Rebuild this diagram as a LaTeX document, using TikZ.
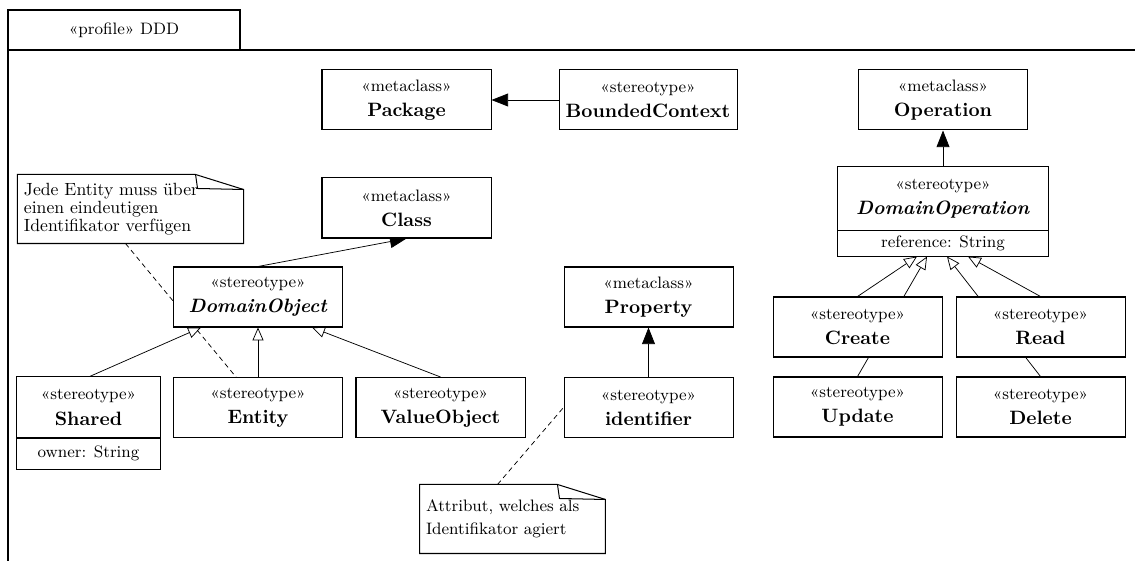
\documentclass[tikz,border=0pt]{standalone}
\usetikzlibrary{arrows.meta,calc,backgrounds}
\def\pxu{0.543pt}
\newcommand\sttext[1]{{\small«#1»}}
\newcommand\nm[1]{{\fontsize{10.5}{13.6}\selectfont\textbf{#1}}}
\begin{document}
\begin{tikzpicture}[x=0.543pt,y=-0.543pt,
  line width=0.55pt,
  box/.style={draw,fill=white,inner sep=0pt,align=center,
    font=\fontsize{10}{13.6}\selectfont,
    minimum width=169*\pxu,minimum height=60*\pxu},
  bw/.style={minimum width=#1*\pxu},
  bh/.style={minimum height=#1*\pxu},
  attr/.style={fill=white,inner sep=0pt,font=\small,
    minimum height=30*\pxu},
  notetext/.style={inner xsep=6*\pxu,inner ysep=0pt,align=left,
    minimum height=68*\pxu},
  ext/.style={-{Triangle[length=9pt,width=7pt]}},
  gen/.style={-{Triangle[open,length=7pt,width=6pt]}},
  noteline/.style={dash pattern=on 2.7pt off 2pt},
  frame/.style={line width=0.7pt}
]
\useasboundingbox (0,0) rectangle (1135,561);

% profile frame with its name tab
\draw[frame] (1135,50) -- (240,50) -- (240,10) -- (8,10) -- (8,561);
\draw[frame] (8,50) -- (240,50);
\node[font=\small] (tab) at (124,30) {«profile» DDD};

% metaclasses and stereotypes
\node[box] (pkg) at (406.5,100) {\sttext{metaclass}\\\nm{Package}};
\node[box,bw=178] (bc) at (648,100) {\sttext{stereotype}\\\nm{BoundedContext}};
\node[box] (op) at (943,100) {\sttext{metaclass}\\\nm{Operation}};
\node[box] (cls) at (406.5,208) {\sttext{metaclass}\\\nm{Class}};

\node[box,draw=none,bw=210,bh=63] (dop) at (943,198.5)
  {\sttext{stereotype}\\\nm{\textit{DomainOperation}}};
\node[attr,bw=210,bh=25,anchor=north] (dopattr) at (dop.south) {reference: String};
\draw (dop.north west) rectangle (dopattr.south east);
\draw (dop.south west) -- (dop.south east);

\node[box] (dobj) at (258,297) {\sttext{stereotype}\\\nm{\textit{DomainObject}}};
\node[box] (prop) at (648.5,297) {\sttext{metaclass}\\\nm{Property}};

\node[box] (create) at (857.5,327) {\sttext{stereotype}\\\nm{Create}};
\node[box] (read) at (1040.5,327) {\sttext{stereotype}\\\nm{Read}};
\node[box] (upd) at (857.5,407) {\sttext{stereotype}\\\nm{Update}};
\node[box] (del) at (1040.5,407) {\sttext{stereotype}\\\nm{Delete}};

\node[box,draw=none,bw=143] (shared) at (88.5,407.5) {\sttext{stereotype}\\\nm{Shared}};
\node[attr,bw=143,anchor=north] (sharedattr) at (shared.south) {owner: String};
\draw (shared.north west) rectangle (sharedattr.south east);
\draw (shared.south west) -- (shared.south east);
\node[box] (entity) at (258,407.5) {\sttext{stereotype}\\\nm{Entity}};
\node[box] (vo) at (440.5,407.5) {\sttext{stereotype}\\\nm{ValueObject}};
\node[box] (ident) at (648.5,407.5) {\sttext{stereotype}\\\nm{identifier}};

% notes with a folded corner
\node[notetext,text width=115.7pt,font=\fontsize{9.6}{9.8}\selectfont] (note1) at (130.5,209)
  {Jede Entity muss über\\einen eindeutigen\\Identifikator verfügen};
\node[notetext,text width=93.9pt,font=\fontsize{9}{12.5}\selectfont] (note2) at (512.5,519)
  {Attribut, welches als\\Identifikator agiert};
\foreach \n in {note1,note2}{
  \draw (\n.north west) -- ($(\n.north east)+(-48,0)$) -- ($(\n.north east)+(0,15)$)
        -- (\n.south east) -- (\n.south west) -- cycle;
  \draw ($(\n.north east)+(-48,0)$) -- ($(\n.north east)+(-46,14)$) -- ($(\n.north east)+(0,15)$);
}

% connectors, kept behind the boxes
\begin{pgfonlayer}{background}
  \draw[ext] (bc) -- (pkg);
  \draw[ext] (dobj.north) -- (cls.south);
  \draw[ext] (ident) -- (prop);
  \draw[ext] (dop) -- (op);

  \draw[gen] (entity) -- (dobj);
  \draw[gen] (shared.north) -- ($(dobj.south)+(-57,0)$);
  \draw[gen] (vo.north) -- ($(dobj.south)+(54,0)$);

  \draw[gen] (create.north) -- ($(dopattr.south)+(-26,0)$);
  \draw[gen] (upd.north) -- ($(dopattr.south)+(-16,0)$);
  \draw[gen] (read.north) -- ($(dopattr.south)+(25,0)$);
  \draw[gen] (del.north) -- ($(dopattr.south)+(4,0)$);

  \draw[noteline] ($(note1.south)+(-5,0)$) -- ($(entity.north)+(-22,0)$);
  \draw[noteline] ($(note2.north)+(-15,0)$) -- (ident.west);
\end{pgfonlayer}
\end{tikzpicture}
\end{document}
